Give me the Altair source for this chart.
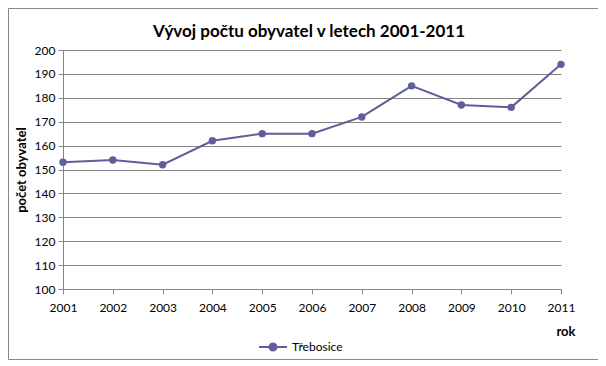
import altair as alt
import pandas as pd

years = ["2001", "2002", "2003", "2004", "2005", "2006", "2007", "2008", "2009", "2010", "2011"]
population = [153, 154, 152, 162, 165, 165, 172, 185, 177, 176, 194]
series_name = "Třebosice"
y_ticks = [100, 110, 120, 130, 140, 150, 160, 170, 180, 190, 200]

df = pd.DataFrame({"rok": years, "pocet": population, "serie": [series_name] * len(years)})

LINE = "#5f5f9b"
GRID = "#868686"
FONT = "Lato"

legend_symbol = "M-1,0H1M-0.25,0A0.25,0.25 0 1 1 0.25,0A0.25,0.25 0 1 1 -0.25,0Z"

base = alt.Chart(df)

x = alt.X("rok:O", scale=alt.Scale(padding=0),
          axis=alt.Axis(title="rok", labelAngle=0, labelPadding=8, tickSize=5,
                        titleAnchor="end", titleAlign="right", titleX=512, titleY=36,
                        titleFontWeight="bold", titleFontSize=13))
y = alt.Y("pocet:Q", scale=alt.Scale(domain=[100, 200], nice=False, zero=False),
          axis=alt.Axis(title="počet obyvatel", values=y_ticks, tickSize=5, labelPadding=3,
                        grid=True, titleFontWeight="bold", titleFontSize=13, titlePadding=6))
color = alt.Color("serie:N", scale=alt.Scale(range=[LINE]),
                  legend=alt.Legend(title=None, orient="none", legendX=195, legendY=282,
                                    symbolType=legend_symbol, symbolSize=784,
                                    symbolStrokeWidth=2, symbolFillColor=LINE,
                                    labelFontSize=12, labelFont=FONT, labelColor="#000"))

line = base.mark_line(strokeWidth=2).encode(x=x, y=y, color=color)
pts = base.mark_circle(size=55, opacity=1).encode(
    x=x, y=y, color=alt.Color("serie:N", scale=alt.Scale(range=[LINE]), legend=None))

border = alt.Chart(pd.DataFrame({"a": [0]})).mark_rect(
    fill="white", fillOpacity=0, stroke=GRID, strokeWidth=1, strokeOpacity=1).encode(
    x=alt.value(-54.5), x2=alt.value(535.5), y=alt.value(-41.5), y2=alt.value(309.5))

chart = alt.layer(border, line, pts).properties(
    width=498, height=239,
    autosize=alt.AutoSizeParams(type="none"),
    padding={"left": 55, "top": 42, "right": 37, "bottom": 76},
    title=alt.Title("Vývoj počtu obyvatel v letech 2001-2011", fontSize=17, fontWeight="bold",
                    font=FONT, anchor="middle", dx=-3, dy=4, offset=-29, color="#000"),
).configure_view(stroke=None).configure_axis(
    labelFont=FONT, titleFont=FONT, labelFontSize=12, labelColor="#000", titleColor="#000",
    domainColor=GRID, tickColor=GRID, gridColor=GRID, gridOpacity=1,
).configure_axisX(grid=False)

chart.save("out.html", embed_options={"renderer": "svg", "actions": False})
